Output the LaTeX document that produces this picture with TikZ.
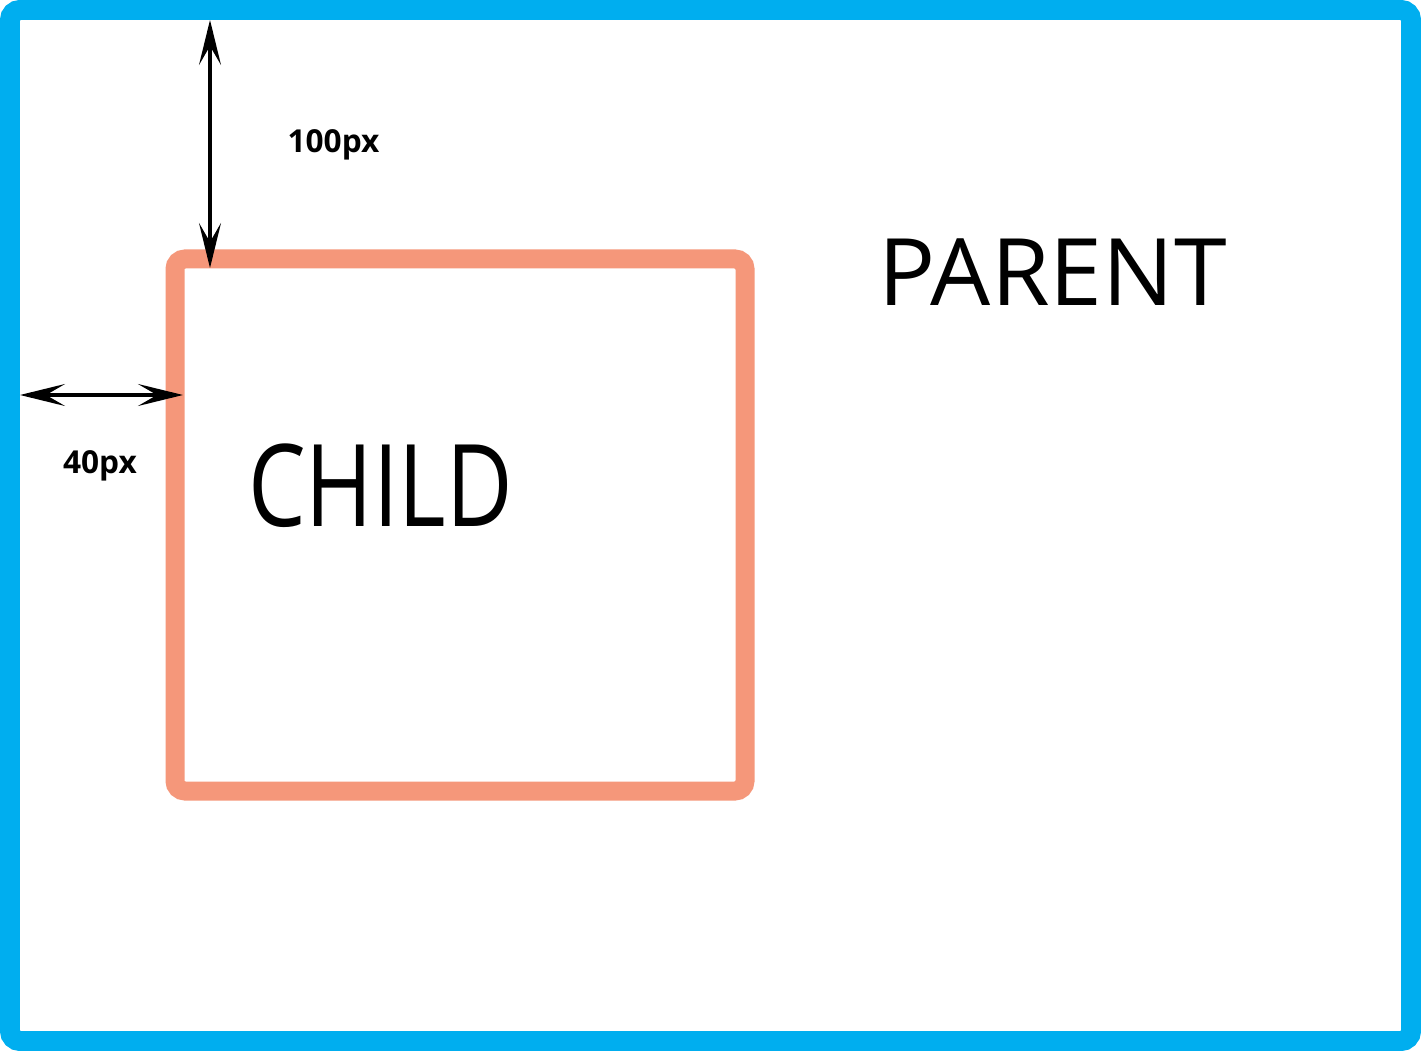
\documentclass[tikz,border=0pt]{standalone}
\usepackage{fontspec}
\setmainfont{Open Sans}
\usetikzlibrary{arrows.meta,positioning}
\definecolor{ParentBlue}{HTML}{00AEEF}
\definecolor{ChildSalmon}{HTML}{F5977A}

\begin{document}
\begin{tikzpicture}[
  >={Stealth[length=0.9cm,width=0.44cm,inset=0.38cm]},
  box/.style={
    rounded corners=0.2cm,
    outer sep=0pt,
    inner sep=0pt,
    fill=white
  },
  gap/.style={<->,line width=0.08cm},
  gaplabel/.style={font=\bfseries\fontsize{18}{20}\selectfont,anchor=base},
  title/.style={anchor=base}
]
\useasboundingbox (0,0) rectangle (28.42,-21.02);

% Parent: the outer blue frame.
\node[box,draw=ParentBlue,line width=0.4cm,
  minimum width=28.02cm,minimum height=20.62cm] (parent) at (14.21,-10.51) {};
\node[title,font=\fontsize{53}{56}\selectfont] (parentname) at (21.05,-6.12)
  {\scalebox{1.02}[1]{PARENT}};

% Child: the salmon box inside it.
\node[box,draw=ChildSalmon,line width=0.38cm,
  minimum width=11.4cm,minimum height=10.64cm] (child) at (9.20,-10.50) {};
\node[title,font=\fontsize{65}{68}\selectfont] (childname) at (7.61,-10.54)
  {\scalebox{0.8}[1]{CHILD}};

% Gaps between parent and child.
\coordinate (topedge) at (child.north west |- parent.north);
\coordinate (leftedge) at (parent.west |- child.north west);
\draw[gap] ([xshift=0.7cm,yshift=-0.2cm]topedge) --
  ([xshift=0.7cm,yshift=-0.18cm]child.north west);
\draw[gap] ([xshift=0.2cm,yshift=-2.72cm]leftedge) --
  ([xshift=0.16cm,yshift=-2.72cm]child.north west);
\node[gaplabel] (topgap) at (6.67,-3.06) {100px};
\node[gaplabel] (leftgap) at (2.00,-9.46) {40px};
\end{tikzpicture}
\end{document}
